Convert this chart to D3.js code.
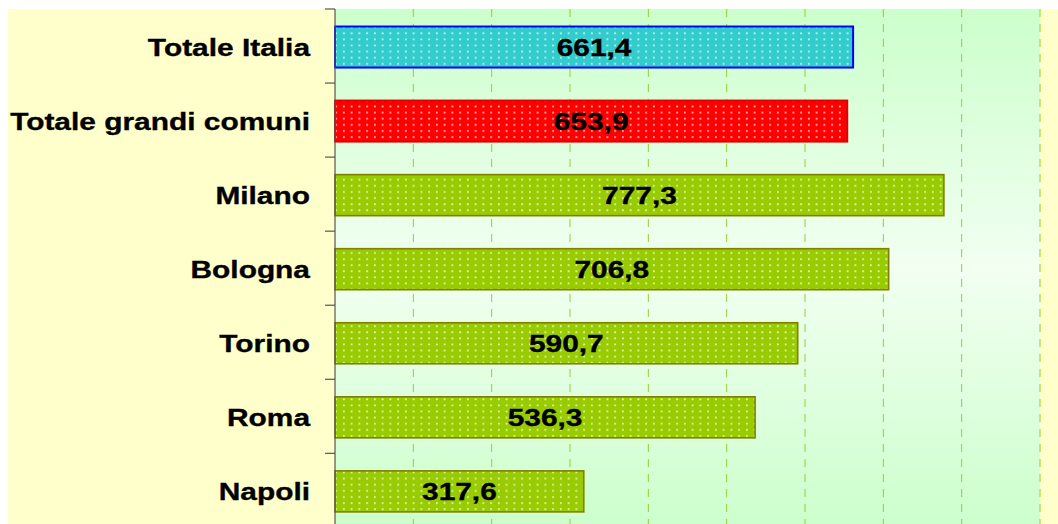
<!DOCTYPE html>
<html>
<head>
<meta charset="utf-8">
<script src="https://cdn.jsdelivr.net/npm/d3@7"></script>
<style>
  body { margin: 0; background: #fff; }
  text { font-family: "Liberation Sans", Arial, sans-serif; font-weight: bold; fill: #000; stroke: #000; stroke-width: 0.35px; }
</style>
</head>
<body>
<div id="chart"></div>
<script>
// data
const categories = ['Totale Italia', 'Totale grandi comuni', 'Milano', 'Bologna', 'Torino', 'Roma', 'Napoli'];
const values = [661.4, 653.9, 777.3, 706.8, 590.7, 536.3, 317.6];
const gridTicks = [100, 200, 300, 400, 500, 600, 700, 800, 900];
const barKinds = ['italia', 'grandi', 'city', 'city', 'city', 'city', 'city'];

const fills = { italia: '#33CCCC', grandi: '#FF0000', city: '#99CC00' };
const strokes = { italia: '#0000FF', grandi: '#E00000', city: '#808000' };

const W = 1058, H = 524;
const plot = { left: 335, right: 1040, top: 9, bottom: 527.4 };
const sx = 1.22; // the original picture is stretched sideways

const svg = d3.select('#chart').append('svg')
  .attr('width', W)
  .attr('height', H);

const defs = svg.append('defs');
const grad = defs.append('linearGradient')
  .attr('id', 'bg')
  .attr('x1', 0).attr('y1', 0).attr('x2', 0).attr('y2', 1);
grad.append('stop').attr('offset', '0%').attr('stop-color', '#CCFFCC');
grad.append('stop').attr('offset', '50%').attr('stop-color', '#F2FFF2');
grad.append('stop').attr('offset', '100%').attr('stop-color', '#CCFFCC');

const pat = defs.append('pattern')
  .attr('id', 'dots')
  .attr('patternUnits', 'userSpaceOnUse')
  .attr('width', 7.75).attr('height', 6.1);
pat.append('rect')
  .attr('x', 2).attr('y', 2)
  .attr('width', 1.7).attr('height', 1.7)
  .attr('fill', '#fff').attr('opacity', 0.8);

// outer yellow area
svg.append('rect')
  .attr('x', 8).attr('y', 9)
  .attr('width', W - 8).attr('height', H - 9)
  .attr('fill', '#FFFFCC');

// plot background
svg.append('rect')
  .attr('x', plot.left).attr('y', plot.top)
  .attr('width', plot.right - plot.left)
  .attr('height', plot.bottom - plot.top)
  .attr('fill', 'url(#bg)');

const x = d3.scaleLinear()
  .domain([0, 900])
  .range([plot.left, plot.right]);

const y = d3.scaleBand()
  .domain(categories)
  .range([plot.top + 1, plot.bottom + 1])
  .paddingInner(0.446)
  .paddingOuter(0.223);

const yEdges = d3.scaleBand()
  .domain(categories)
  .range([plot.top, plot.bottom])
  .padding(0);

// dashed gridlines
svg.append('g')
  .selectAll('line')
  .data(gridTicks)
  .join('line')
  .attr('x1', d => x(d)).attr('x2', d => x(d))
  .attr('y1', plot.top).attr('y2', plot.bottom)
  .attr('stroke', d => d === 900 ? '#B8E060' : '#99CC33')
  .attr('stroke-width', d => d === 900 ? 1.6 : 1)
  .attr('stroke-dasharray', '8,7');

// bars
const bars = svg.append('g')
  .selectAll('g')
  .data(categories.map((c, i) => ({ cat: c, value: values[i], kind: barKinds[i] })))
  .join('g');

bars.append('rect')
  .attr('x', x(0))
  .attr('y', d => y(d.cat))
  .attr('width', d => x(d.value) - x(0))
  .attr('height', y.bandwidth())
  .attr('fill', d => fills[d.kind]);

bars.append('rect')
  .attr('x', x(0))
  .attr('y', d => y(d.cat))
  .attr('width', d => x(d.value) - x(0))
  .attr('height', y.bandwidth())
  .attr('fill', 'url(#dots)')
  .attr('stroke', d => strokes[d.kind])
  .attr('stroke-width', d => d.kind === 'city' ? 1.6 : 2);

// value labels in the middle of each bar
bars.append('text')
  .attr('transform', d => `translate(${(x(0) + x(d.value)) / 2},${y(d.cat) + y.bandwidth() / 2}) scale(${sx},1)`)
  .attr('text-anchor', 'middle')
  .attr('dy', '0.36em')
  .style('font-size', '24.5px')
  .text(d => d3.format('.1f')(d.value).replace('.', ','));

// category axis
const axis = svg.append('g');
axis.append('line')
  .attr('x1', plot.left).attr('x2', plot.left)
  .attr('y1', plot.top).attr('y2', plot.bottom)
  .attr('stroke', '#555').attr('stroke-width', 1.2);

axis.selectAll('.tick')
  .data(categories.map(c => yEdges(c)).concat([plot.bottom]))
  .join('line')
  .attr('class', 'tick')
  .attr('x1', plot.left - 10).attr('x2', plot.left)
  .attr('y1', d => d).attr('y2', d => d)
  .attr('stroke', '#555').attr('stroke-width', 1.2);

axis.selectAll('text')
  .data(categories)
  .join('text')
  .attr('transform', d => `translate(310,${y(d) + y.bandwidth() / 2}) scale(${sx},1)`)
  .attr('text-anchor', 'end')
  .attr('dy', '0.36em')
  .style('font-size', '24.5px')
  .text(d => d);
</script>
</body>
</html>
